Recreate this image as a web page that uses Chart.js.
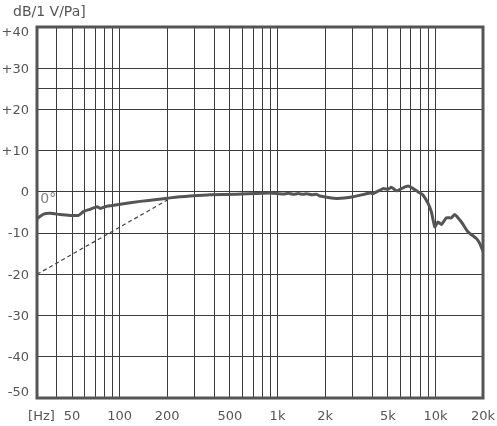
<!DOCTYPE html>
<html>
<head>
<meta charset="utf-8">
<script src="https://cdn.jsdelivr.net/npm/chart.js@4.4.1/dist/chart.umd.min.js"></script>
<style>
  html, body { margin: 0; padding: 0; background: #ffffff; }
  #wrap { width: 497px; height: 426px; position: relative; }
  canvas { display: block; }
</style>
</head>
<body>
<div id="wrap"><canvas id="c" width="497" height="426" style="width:497px;height:426px"></canvas></div>
<script>
// ---- data ----
const freqs = [30, 33, 36.5, 42, 49, 55, 59, 64, 72, 75.5, 83, 101, 135, 172, 209, 242, 280, 374, 552, 739, 897,
  1088, 1170, 1259, 1350, 1450, 1530, 1650, 1769, 1857, 2367, 3014, 3843, 4033, 4665, 5015, 5270, 5670, 6240, 6710,
  7220, 7760, 8350, 8980, 9430, 9900, 10380, 10910, 11730, 12620, 13240, 14600, 16070, 18160, 19050, 20000];
const response0 = [-6.5, -5.4, -5.2, -5.5, -5.7, -5.7, -4.8, -4.3, -3.6, -4.0, -3.5, -3.0, -2.3, -1.85, -1.45, -1.2, -1.0, -0.7, -0.55, -0.4, -0.25,
  -0.5, -0.35, -0.6, -0.4, -0.6, -0.45, -0.7, -0.6, -1.0, -1.6, -1.2, -0.25, -0.4, 0.8, 0.65, 1.1, 0.25, 1.0, 1.4,
  0.8, 0.0, -0.8, -2.8, -4.9, -8.5, -7.3, -7.9, -6.3, -6.3, -5.5, -7.3, -9.7, -11.3, -12.5, -14.4];
const refLineFreqs = [30, 200];
const refLineDb = [-20, -2];

const xGridTicks = [32, 40, 50, 60, 70, 80, 90, 100, 200, 300, 400, 500, 600, 700, 800, 900,
  1000, 2000, 3000, 4000, 5000, 6000, 7000, 8000, 9000, 10000, 20000];
const xTickLabels = { 32: '[Hz]', 50: '50', 100: '100', 200: '200', 500: '500', 1000: '1k', 2000: '2k', 5000: '5k', 10000: '10k', 20000: '20k' };
const yGridTicks = [-50, -40, -30, -20, -10, 0, 10, 20, 25, 30, 40];
const yTickLabels = { '-50': '-50', '-40': '-40', '-30': '-30', '-20': '-20', '-10': '-10', '0': '0', '10': '+10', '20': '+20', '30': '+30', '40': '+40' };
const yUnitLabel = 'dB/1 V/Pa]';
const curveLabel = '0°';

const TEXT = '#555555';
const GRID = '#3c3c3c';
const FONT = 'DejaVu Sans, Verdana, sans-serif';

const overlay = {
  id: 'overlay',
  afterDraw(chart) {
    const ctx = chart.ctx;
    const a = chart.chartArea;
    const ys = chart.scales.y;
    const xs = chart.scales.x;
    ctx.save();
    // frame
    ctx.strokeStyle = '#555555';
    ctx.lineWidth = 3;
    ctx.strokeRect(a.left, a.top, a.right - a.left, a.bottom - a.top);
    // y labels
    ctx.fillStyle = TEXT;
    ctx.font = '13px ' + FONT;
    ctx.textAlign = 'right';
    ctx.textBaseline = 'middle';
    yGridTicks.forEach(v => {
      const lab = yTickLabels[String(v)];
      if (!lab) return;
      let py = ys.getPixelForValue(v) + 1;
      py = Math.max(py, a.top + 6);
      py = Math.min(py, a.bottom - 5);
      ctx.fillText(lab, a.left - 8, py);
    });
    // unit title
    ctx.font = '14px ' + FONT;
    ctx.textAlign = 'left';
    ctx.textBaseline = 'alphabetic';
    ctx.fillText(yUnitLabel, 13, 16);
    // curve label
    ctx.fillStyle = '#808080';
    ctx.font = '14px ' + FONT;
    ctx.textAlign = 'left';
    ctx.textBaseline = 'middle';
    ctx.fillText(curveLabel, xs.getPixelForValue(31.5), ys.getPixelForValue(-1.8));
    ctx.restore();
  }
};

new Chart(document.getElementById('c'), {
  type: 'line',
  data: {
    datasets: [
      {
        data: freqs.map((f, i) => ({ x: f, y: response0[i] })),
        borderColor: '#555555',
        borderWidth: 3,
        pointRadius: 0,
        tension: 0.15,
        borderJoinStyle: 'round',
        borderCapStyle: 'round',
        fill: false
      },
      {
        data: refLineFreqs.map((f, i) => ({ x: f, y: refLineDb[i] })),
        borderColor: '#444444',
        borderWidth: 1.2,
        borderDash: [4, 3],
        pointRadius: 0,
        tension: 0,
        fill: false
      }
    ]
  },
  options: {
    responsive: false,
    animation: false,
    devicePixelRatio: 1,
    layout: { padding: { top: 27, right: 14, left: 0, bottom: 0 } },
    plugins: { legend: { display: false }, tooltip: { enabled: false }, title: { display: false } },
    scales: {
      x: {
        type: 'logarithmic',
        min: 30,
        max: 20000,
        afterBuildTicks: s => { s.ticks = xGridTicks.map(v => ({ value: v })); },
        afterFit: s => { s.height = 28; s.paddingLeft = 0; s.paddingRight = 0; s.paddingTop = 0; s.paddingBottom = 0; },
        border: { display: false },
        grid: {
          color: c => (c.tick && c.tick.value === 32) ? 'rgba(0,0,0,0)' : GRID,
          lineWidth: 1,
          drawTicks: false
        },
        ticks: {
          autoSkip: false,
          maxRotation: 0,
          minRotation: 0,
          padding: 11,
          color: TEXT,
          font: { family: FONT, size: 13 },
          callback: function (v) { return xTickLabels[v] || ''; }
        }
      },
      y: {
        type: 'linear',
        min: -50,
        max: 40,
        afterBuildTicks: s => { s.ticks = yGridTicks.map(v => ({ value: v })); },
        afterFit: s => { s.width = 37; s.paddingLeft = 0; s.paddingRight = 0; s.paddingTop = 0; s.paddingBottom = 0; },
        border: { display: false },
        grid: { color: GRID, lineWidth: 1, drawTicks: false },
        ticks: { display: false }
      }
    }
  },
  plugins: [overlay]
});
</script>
</body>
</html>
